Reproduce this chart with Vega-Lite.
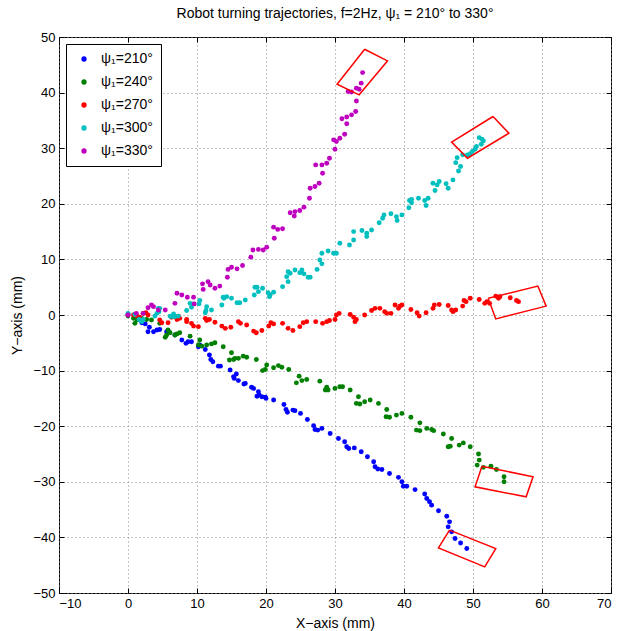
{
  "$schema": "https://vega.github.io/schema/vega-lite/v6.json",
  "autosize": {"type": "none"},
  "padding": {"left": 59, "top": 37, "right": 10, "bottom": 38},
  "width": 552,
  "height": 556,
  "title": {"text": "Robot turning trajectories, f=2Hz, ψ₁ = 210° to 330°", "fontSize": 14, "fontWeight": "normal", "color": "black", "offset": 10, "anchor": "middle"},
  "config": {
    "font": "Liberation Sans",
    "view": {"stroke": "black", "strokeWidth": 1},
    "axis": {"domain": false, "labelFontSize": 13, "labelColor": "black", "tickColor": "black", "tickSize": -5, "labelPadding": 9, "gridColor": "#888888", "gridDash": [1, 3], "gridOpacity": 1, "titleFontSize": 14, "titleFontWeight": "normal", "titleColor": "black"}
  },
  "datasets": {
    "pts": [
      {"g":210,"x":0,"y":0},{"g":210,"x":1.0,"y":0.1},{"g":210,"x":1.5,"y":-0.8},{"g":210,"x":2.0,"y":-1.4},{"g":210,"x":2.5,"y":-1.6},{"g":210,"x":3.1,"y":-2.2},{"g":210,"x":2.9,"y":-3.0},{"g":210,"x":3.7,"y":-3.0},{"g":210,"x":4.2,"y":-2.7},{"g":210,"x":4.6,"y":-2.6},{"g":210,"x":5.6,"y":-3.0},{"g":210,"x":5.8,"y":-2.8},{"g":210,"x":6.8,"y":-3.6},{"g":210,"x":7.8,"y":-4.5},{"g":210,"x":8.4,"y":-5.1},{"g":210,"x":8.7,"y":-4.8},{"g":210,"x":9.2,"y":-4.8},{"g":210,"x":10.2,"y":-5.7},{"g":210,"x":10.4,"y":-5.4},{"g":210,"x":11.2,"y":-6.2},{"g":210,"x":11.8,"y":-7.2},{"g":210,"x":12.0,"y":-8.0},{"g":210,"x":12.3,"y":-8.4},{"g":210,"x":13.1,"y":-9.2},{"g":210,"x":13.4,"y":-9.2},{"g":210,"x":14.8,"y":-9.9},{"g":210,"x":15.3,"y":-11.1},{"g":210,"x":15.7,"y":-10.6},{"g":210,"x":15.4,"y":-11.4},{"g":210,"x":16.0,"y":-11.8},{"g":210,"x":16.8,"y":-12.4},{"g":210,"x":17.0,"y":-12.3},{"g":210,"x":17.9,"y":-13.0},{"g":210,"x":18.2,"y":-13.2},{"g":210,"x":18.9,"y":-13.8},{"g":210,"x":19.0,"y":-14.4},{"g":210,"x":18.7,"y":-14.6},{"g":210,"x":19.4,"y":-14.7},{"g":210,"x":19.9,"y":-14.8},{"g":210,"x":20.0,"y":-15.0},{"g":210,"x":21.1,"y":-15.3},{"g":210,"x":22.6,"y":-16.1},{"g":210,"x":22.9,"y":-17.0},{"g":210,"x":23.1,"y":-17.5},{"g":210,"x":23.9,"y":-17.1},{"g":210,"x":24.2,"y":-17.2},{"g":210,"x":25.0,"y":-17.7},{"g":210,"x":26.0,"y":-18.8},{"g":210,"x":26.9,"y":-19.9},{"g":210,"x":27.1,"y":-20.6},{"g":210,"x":27.5,"y":-20.7},{"g":210,"x":28.1,"y":-20.4},{"g":210,"x":29.3,"y":-21.3},{"g":210,"x":30.5,"y":-22.2},{"g":210,"x":31.4,"y":-22.8},{"g":210,"x":31.7,"y":-23.7},{"g":210,"x":32.0,"y":-24.0},{"g":210,"x":32.8,"y":-23.9},{"g":210,"x":33.8,"y":-24.6},{"g":210,"x":34.7,"y":-25.5},{"g":210,"x":35.6,"y":-26.4},{"g":210,"x":35.8,"y":-27.3},{"g":210,"x":36.2,"y":-27.7},{"g":210,"x":36.8,"y":-27.8},{"g":210,"x":37.9,"y":-28.5},{"g":210,"x":39.2,"y":-29.2},{"g":210,"x":39.7,"y":-30.0},{"g":210,"x":39.9,"y":-30.8},{"g":210,"x":40.4,"y":-30.8},{"g":210,"x":41.6,"y":-31.4},{"g":210,"x":43.0,"y":-32.2},{"g":210,"x":43.3,"y":-33.0},{"g":210,"x":43.7,"y":-33.6},{"g":210,"x":44.0,"y":-34.2},{"g":210,"x":45.0,"y":-35.2},{"g":210,"x":46.2,"y":-36.2},{"g":210,"x":46.6,"y":-37.2},{"g":210,"x":46.4,"y":-38.1},{"g":210,"x":46.9,"y":-39.0},{"g":210,"x":47.4,"y":-40.2},{"g":210,"x":48.2,"y":-41.0},{"g":210,"x":49.1,"y":-42.0},
      {"g":240,"x":0,"y":-0.2},{"g":240,"x":0.8,"y":-0.6},{"g":240,"x":1.0,"y":-1.5},{"g":240,"x":1.3,"y":-0.9},{"g":240,"x":2.0,"y":-0.6},{"g":240,"x":2.7,"y":-0.8},{"g":240,"x":3.4,"y":-0.9},{"g":240,"x":4.6,"y":-1.5},{"g":240,"x":5.4,"y":-4.0},{"g":240,"x":5.6,"y":-3.6},{"g":240,"x":5.8,"y":-2.7},{"g":240,"x":6.1,"y":-3.2},{"g":240,"x":6.8,"y":-3.6},{"g":240,"x":7.1,"y":-3.4},{"g":240,"x":7.5,"y":-3.2},{"g":240,"x":9.0,"y":-3.8},{"g":240,"x":10.2,"y":-5.4},{"g":240,"x":10.4,"y":-4.5},{"g":240,"x":10.7,"y":-5.6},{"g":240,"x":11.4,"y":-5.4},{"g":240,"x":12.1,"y":-5.2},{"g":240,"x":12.6,"y":-5.0},{"g":240,"x":13.8,"y":-5.7},{"g":240,"x":14.7,"y":-8.1},{"g":240,"x":15.0,"y":-6.8},{"g":240,"x":15.3,"y":-8.0},{"g":240,"x":15.5,"y":-7.8},{"g":240,"x":16.0,"y":-7.8},{"g":240,"x":16.7,"y":-7.4},{"g":240,"x":17.2,"y":-7.6},{"g":240,"x":18.6,"y":-8.0},{"g":240,"x":19.5,"y":-10.0},{"g":240,"x":19.9,"y":-9.8},{"g":240,"x":20.1,"y":-9.0},{"g":240,"x":21.1,"y":-9.5},{"g":240,"x":21.8,"y":-9.1},{"g":240,"x":22.3,"y":-9.4},{"g":240,"x":23.3,"y":-9.8},{"g":240,"x":24.4,"y":-12.2},{"g":240,"x":24.8,"y":-11.0},{"g":240,"x":25.2,"y":-11.8},{"g":240,"x":25.9,"y":-11.6},{"g":240,"x":27.8,"y":-11.9},{"g":240,"x":28.6,"y":-13.5},{"g":240,"x":28.8,"y":-13.0},{"g":240,"x":29.0,"y":-13.5},{"g":240,"x":30.0,"y":-13.2},{"g":240,"x":30.7,"y":-12.9},{"g":240,"x":31.1,"y":-12.9},{"g":240,"x":32.2,"y":-13.5},{"g":240,"x":33.4,"y":-14.7},{"g":240,"x":33.1,"y":-15.9},{"g":240,"x":33.6,"y":-16.0},{"g":240,"x":34.3,"y":-15.6},{"g":240,"x":35.1,"y":-15.3},{"g":240,"x":36.3,"y":-15.9},{"g":240,"x":37.5,"y":-17.0},{"g":240,"x":37.4,"y":-18.3},{"g":240,"x":37.9,"y":-18.4},{"g":240,"x":38.9,"y":-18.0},{"g":240,"x":39.7,"y":-17.7},{"g":240,"x":41.0,"y":-18.4},{"g":240,"x":42.3,"y":-19.4},{"g":240,"x":41.8,"y":-20.7},{"g":240,"x":42.3,"y":-20.8},{"g":240,"x":43.3,"y":-20.4},{"g":240,"x":44.0,"y":-20.6},{"g":240,"x":44.3,"y":-20.8},{"g":240,"x":45.7,"y":-21.4},{"g":240,"x":46.9,"y":-22.2},{"g":240,"x":46.7,"y":-23.6},{"g":240,"x":46.4,"y":-23.7},{"g":240,"x":48.0,"y":-23.4},{"g":240,"x":48.6,"y":-23.0},{"g":240,"x":49.6,"y":-23.7},{"g":240,"x":50.8,"y":-25.0},{"g":240,"x":50.9,"y":-26.1},{"g":240,"x":50.6,"y":-27.0},{"g":240,"x":51.5,"y":-27.4},{"g":240,"x":52.6,"y":-27.2},{"g":240,"x":53.4,"y":-27.8},{"g":240,"x":54.5,"y":-29.1},{"g":240,"x":54.5,"y":-30.0},
      {"g":270,"x":0,"y":0},{"g":270,"x":0.8,"y":0},{"g":270,"x":1.3,"y":-0.2},{"g":270,"x":1.7,"y":-0.4},{"g":270,"x":2.2,"y":0.3},{"g":270,"x":2.6,"y":0.4},{"g":270,"x":2.9,"y":0},{"g":270,"x":4.6,"y":-0.9},{"g":270,"x":4.9,"y":-1.4},{"g":270,"x":5.8,"y":-1.4},{"g":270,"x":6.3,"y":-0.4},{"g":270,"x":6.8,"y":-0.3},{"g":270,"x":7.1,"y":-0.8},{"g":270,"x":7.3,"y":-0.2},{"g":270,"x":7.5,"y":-0.6},{"g":270,"x":8.5,"y":-0.8},{"g":270,"x":8.5,"y":-1.2},{"g":270,"x":9.2,"y":-1.5},{"g":270,"x":9.5,"y":-2.0},{"g":270,"x":10.2,"y":-2.1},{"g":270,"x":11.2,"y":-0.6},{"g":270,"x":11.4,"y":-1.0},{"g":270,"x":11.8,"y":-0.8},{"g":270,"x":12.6,"y":-1.3},{"g":270,"x":13.6,"y":-2.0},{"g":270,"x":14.1,"y":-2.4},{"g":270,"x":14.9,"y":-2.2},{"g":270,"x":16.0,"y":-1.2},{"g":270,"x":16.3,"y":-1.5},{"g":270,"x":17.2,"y":-1.8},{"g":270,"x":18.2,"y":-2.9},{"g":270,"x":18.6,"y":-3.2},{"g":270,"x":19.4,"y":-2.8},{"g":270,"x":20.4,"y":-2.0},{"g":270,"x":20.7,"y":-1.4},{"g":270,"x":21.1,"y":-1.6},{"g":270,"x":22.4,"y":-1.5},{"g":270,"x":23.2,"y":-2.4},{"g":270,"x":23.9,"y":-2.8},{"g":270,"x":24.9,"y":-2.1},{"g":270,"x":25.4,"y":-1.4},{"g":270,"x":25.9,"y":-1.2},{"g":270,"x":27.2,"y":-1.2},{"g":270,"x":28.2,"y":-1.5},{"g":270,"x":28.8,"y":-1.2},{"g":270,"x":29.2,"y":-1.0},{"g":270,"x":30.0,"y":-0.8},{"g":270,"x":30.2,"y":0},{"g":270,"x":30.6,"y":0.3},{"g":270,"x":32.2,"y":0.1},{"g":270,"x":32.7,"y":-0.4},{"g":270,"x":32.9,"y":-1.2},{"g":270,"x":33.1,"y":-0.8},{"g":270,"x":34.3,"y":0},{"g":270,"x":35.3,"y":0.8},{"g":270,"x":35.8,"y":1.2},{"g":270,"x":36.5,"y":1.2},{"g":270,"x":37.2,"y":0.6},{"g":270,"x":37.5,"y":0.3},{"g":270,"x":38.1,"y":0.3},{"g":270,"x":38.7,"y":1.8},{"g":270,"x":39.2,"y":1.2},{"g":270,"x":39.4,"y":1.6},{"g":270,"x":39.7,"y":1.8},{"g":270,"x":41.0,"y":1.0},{"g":270,"x":41.9,"y":0.4},{"g":270,"x":42.2,"y":-0.2},{"g":270,"x":43.2,"y":0.4},{"g":270,"x":44.2,"y":1.2},{"g":270,"x":44.4,"y":1.8},{"g":270,"x":45.1,"y":1.9},{"g":270,"x":46.4,"y":1.7},{"g":270,"x":46.9,"y":0.9},{"g":270,"x":47.1,"y":0.6},{"g":270,"x":47.5,"y":0.9},{"g":270,"x":48.5,"y":1.6},{"g":270,"x":48.7,"y":2.6},{"g":270,"x":49.0,"y":2.4},{"g":270,"x":49.6,"y":3.0},{"g":270,"x":50.9,"y":2.8},{"g":270,"x":51.7,"y":2.1},{"g":270,"x":52.0,"y":2.4},{"g":270,"x":52.4,"y":2.1},{"g":270,"x":53.3,"y":3.4},{"g":270,"x":53.7,"y":3.0},{"g":270,"x":53.9,"y":3.3},{"g":270,"x":55.4,"y":3.1},{"g":270,"x":56.3,"y":2.6},{"g":270,"x":56.6,"y":2.4},
      {"g":300,"x":0,"y":0.3},{"g":300,"x":1.0,"y":0.1},{"g":300,"x":1.6,"y":-0.8},{"g":300,"x":2.2,"y":-0.8},{"g":300,"x":2.0,"y":-1.2},{"g":300,"x":3.9,"y":-0.2},{"g":300,"x":4.2,"y":0.3},{"g":300,"x":4.4,"y":1.2},{"g":300,"x":4.5,"y":0.6},{"g":300,"x":4.6,"y":1.2},{"g":300,"x":6.1,"y":-0.2},{"g":300,"x":6.3,"y":-0.3},{"g":300,"x":6.6,"y":0.2},{"g":300,"x":6.8,"y":-0.3},{"g":300,"x":7.3,"y":-0.2},{"g":300,"x":8.5,"y":0.8},{"g":300,"x":9.0,"y":2.1},{"g":300,"x":9.2,"y":1.4},{"g":300,"x":9.5,"y":2.0},{"g":300,"x":10.3,"y":2.0},{"g":300,"x":10.4,"y":2.6},{"g":300,"x":11.2,"y":0.4},{"g":300,"x":11.3,"y":0.8},{"g":300,"x":11.4,"y":1.5},{"g":300,"x":12.1,"y":0.9},{"g":300,"x":13.6,"y":1.8},{"g":300,"x":13.8,"y":3.2},{"g":300,"x":13.9,"y":3.0},{"g":300,"x":14.3,"y":3.3},{"g":300,"x":15.0,"y":3.0},{"g":300,"x":15.8,"y":2.2},{"g":300,"x":16.2,"y":2.2},{"g":300,"x":17.0,"y":2.7},{"g":300,"x":18.3,"y":3.6},{"g":300,"x":18.4,"y":5.0},{"g":300,"x":18.7,"y":5.0},{"g":300,"x":18.9,"y":4.2},{"g":300,"x":19.5,"y":4.8},{"g":300,"x":20.3,"y":4.0},{"g":300,"x":20.6,"y":3.6},{"g":300,"x":20.5,"y":3.3},{"g":300,"x":21.1,"y":4.1},{"g":300,"x":22.4,"y":5.1},{"g":300,"x":23.0,"y":6.9},{"g":300,"x":23.2,"y":6.0},{"g":300,"x":23.2,"y":7.8},{"g":300,"x":23.5,"y":7.5},{"g":300,"x":24.2,"y":8.1},{"g":300,"x":24.9,"y":7.6},{"g":300,"x":25.2,"y":8.1},{"g":300,"x":25.5,"y":7.4},{"g":300,"x":26.1,"y":6.8},{"g":300,"x":26.4,"y":6.8},{"g":300,"x":27.4,"y":8.2},{"g":300,"x":27.8,"y":9.9},{"g":300,"x":28.1,"y":9.2},{"g":300,"x":28.1,"y":11.1},{"g":300,"x":29.0,"y":11.5},{"g":300,"x":29.8,"y":11.1},{"g":300,"x":30.2,"y":11.1},{"g":300,"x":30.7,"y":12.9},{"g":300,"x":32.1,"y":12.6},{"g":300,"x":32.7,"y":13.5},{"g":300,"x":32.7,"y":15.0},{"g":300,"x":33.9,"y":15.2},{"g":300,"x":34.6,"y":14.1},{"g":300,"x":34.6,"y":14.7},{"g":300,"x":35.3,"y":15.3},{"g":300,"x":36.4,"y":16.6},{"g":300,"x":36.9,"y":17.4},{"g":300,"x":37.1,"y":18.0},{"g":300,"x":38.1,"y":18.2},{"g":300,"x":38.9,"y":17.7},{"g":300,"x":39.0,"y":17.0},{"g":300,"x":39.7,"y":18.0},{"g":300,"x":40.7,"y":19.3},{"g":300,"x":40.8,"y":20.6},{"g":300,"x":41.1,"y":20.8},{"g":300,"x":41.1,"y":20.2},{"g":300,"x":42.1,"y":21.0},{"g":300,"x":43.0,"y":20.6},{"g":300,"x":43.2,"y":19.7},{"g":300,"x":43.5,"y":21.0},{"g":300,"x":44.2,"y":23.7},{"g":300,"x":44.5,"y":22.4},{"g":300,"x":44.8,"y":23.4},{"g":300,"x":45.1,"y":24.0},{"g":300,"x":46.1,"y":23.6},{"g":300,"x":46.4,"y":22.8},{"g":300,"x":47.1,"y":24.3},{"g":300,"x":47.9,"y":25.9},{"g":300,"x":48.2,"y":26.7},{"g":300,"x":47.5,"y":27.4},{"g":300,"x":47.7,"y":28.3},{"g":300,"x":48.5,"y":28.8},{"g":300,"x":49.2,"y":28.8},{"g":300,"x":49.6,"y":29.0},{"g":300,"x":49.9,"y":29.4},{"g":300,"x":50.3,"y":29.8},{"g":300,"x":50.5,"y":30.3},{"g":300,"x":51.2,"y":30.7},{"g":300,"x":51.5,"y":31.3},{"g":300,"x":51.3,"y":31.6},{"g":300,"x":50.9,"y":31.9},
      {"g":330,"x":0,"y":0},{"g":330,"x":1.2,"y":0.3},{"g":330,"x":2.2,"y":0.3},{"g":330,"x":2.9,"y":1.3},{"g":330,"x":3.4,"y":1.8},{"g":330,"x":3.7,"y":1.5},{"g":330,"x":4.4,"y":0.9},{"g":330,"x":5.4,"y":0.9},{"g":330,"x":6.8,"y":2.1},{"g":330,"x":7.1,"y":3.9},{"g":330,"x":7.8,"y":3.6},{"g":330,"x":8.6,"y":3.2},{"g":330,"x":9.5,"y":3.2},{"g":330,"x":9.6,"y":2.0},{"g":330,"x":10.8,"y":5.6},{"g":330,"x":10.9,"y":4.6},{"g":330,"x":11.6,"y":6.0},{"g":330,"x":11.9,"y":5.4},{"g":330,"x":12.6,"y":4.8},{"g":330,"x":13.3,"y":5.2},{"g":330,"x":14.4,"y":6.8},{"g":330,"x":14.5,"y":8.2},{"g":330,"x":15.0,"y":8.6},{"g":330,"x":15.8,"y":8.3},{"g":330,"x":16.6,"y":8.9},{"g":330,"x":17.8,"y":10.4},{"g":330,"x":18.1,"y":11.7},{"g":330,"x":18.9,"y":11.8},{"g":330,"x":19.6,"y":11.7},{"g":330,"x":20.1,"y":12.2},{"g":330,"x":21.1,"y":15.8},{"g":330,"x":21.2,"y":13.8},{"g":330,"x":21.7,"y":15.4},{"g":330,"x":22.4,"y":15.5},{"g":330,"x":23.5,"y":18.4},{"g":330,"x":24.1,"y":17.8},{"g":330,"x":24.2,"y":18.6},{"g":330,"x":24.9,"y":18.8},{"g":330,"x":25.5,"y":19.4},{"g":330,"x":26.3,"y":21.0},{"g":330,"x":26.4,"y":22.8},{"g":330,"x":27.1,"y":23.1},{"g":330,"x":27.7,"y":23.7},{"g":330,"x":28.2,"y":25.5},{"g":330,"x":27.2,"y":27.0},{"g":330,"x":28.1,"y":27.0},{"g":330,"x":28.8,"y":27.3},{"g":330,"x":29.2,"y":28.2},{"g":330,"x":30.0,"y":29.8},{"g":330,"x":29.8,"y":31.5},{"g":330,"x":30.2,"y":31.2},{"g":330,"x":30.7,"y":31.8},{"g":330,"x":31.4,"y":32.5},{"g":330,"x":31.7,"y":34.4},{"g":330,"x":31.0,"y":35.3},{"g":330,"x":31.7,"y":35.6},{"g":330,"x":32.4,"y":36.0},{"g":330,"x":33.0,"y":36.6},{"g":330,"x":33.1,"y":38.5},{"g":330,"x":31.9,"y":40.2},{"g":330,"x":32.4,"y":40.1},{"g":330,"x":33.1,"y":40.8},{"g":330,"x":33.5,"y":40.6},{"g":330,"x":33.8,"y":41.7},{"g":330,"x":34.0,"y":43.6}
    ],
    "rects": [
      {"r":1,"o":0,"x":34.3,"y":47.8},{"r":1,"o":1,"x":37.6,"y":45.7},{"r":1,"o":2,"x":33.5,"y":39.6},{"r":1,"o":3,"x":30.3,"y":41.5},{"r":1,"o":4,"x":34.3,"y":47.8},
      {"r":2,"o":0,"x":52.9,"y":35.7},{"r":2,"o":1,"x":55.2,"y":32.7},{"r":2,"o":2,"x":49.2,"y":28.2},{"r":2,"o":3,"x":46.9,"y":31.1},{"r":2,"o":4,"x":52.9,"y":35.7},
      {"r":3,"o":0,"x":52.2,"y":3.0},{"r":3,"o":1,"x":59.4,"y":5.2},{"r":3,"o":2,"x":60.6,"y":1.6},{"r":3,"o":3,"x":53.3,"y":-0.7},{"r":3,"o":4,"x":52.2,"y":3.0},
      {"r":4,"o":0,"x":51.3,"y":-27.2},{"r":4,"o":1,"x":58.7,"y":-29.1},{"r":4,"o":2,"x":57.7,"y":-32.7},{"r":4,"o":3,"x":50.3,"y":-30.9},{"r":4,"o":4,"x":51.3,"y":-27.2},
      {"r":5,"o":0,"x":46.6,"y":-38.7},{"r":5,"o":1,"x":53.3,"y":-42.0},{"r":5,"o":2,"x":51.7,"y":-45.3},{"r":5,"o":3,"x":45.0,"y":-41.9},{"r":5,"o":4,"x":46.6,"y":-38.7}
    ]
  },
  "layer": [
    {
      "data": {"name": "pts"},
      "mark": {"type": "point", "filled": true, "opacity": 1, "size": 24, "shape": "circle"},
      "encoding": {
        "x": {"field": "x", "type": "quantitative", "scale": {"domain": [-10, 70], "nice": false, "zero": false}, "axis": {"values": [-10, 0, 10, 20, 30, 40, 50, 60, 70], "title": "X−axis (mm)", "grid": true, "titlePadding": 6}},
        "y": {"field": "y", "type": "quantitative", "scale": {"domain": [-50, 50], "nice": false, "zero": false}, "axis": {"values": [-50, -40, -30, -20, -10, 0, 10, 20, 30, 40, 50], "title": "Y−axis (mm)", "grid": true, "titlePadding": 8}},
        "color": {"field": "g", "type": "nominal", "scale": {"domain": [210, 240, 270, 300, 330], "range": ["#0000FF", "#008000", "#FF0000", "#00BFBF", "#BF00BF"]},
          "legend": {"title": null, "orient": "top-left", "offset": 7, "strokeColor": "black", "fillColor": "white", "padding": 8, "symbolType": "circle", "symbolSize": 28, "symbolStrokeWidth": 0, "symbolOffset": 3, "labelFontSize": 14, "labelColor": "black", "rowPadding": 9, "labelOffset": 10, "labelExpr": "'ψ₁=' + datum.label + '°'"}}
      }
    },
    {
      "data": {"name": "rects"},
      "mark": {"type": "line", "color": "#FF0000", "strokeWidth": 1.5},
      "encoding": {
        "x": {"field": "x", "type": "quantitative", "axis": {"orient": "top", "values": [-10, 0, 10, 20, 30, 40, 50, 60, 70], "labels": false, "title": null, "grid": false}},
        "y": {"field": "y", "type": "quantitative", "axis": {"orient": "right", "values": [-50, -40, -30, -20, -10, 0, 10, 20, 30, 40, 50], "labels": false, "title": null, "grid": false}},
        "detail": {"field": "r", "type": "nominal"},
        "order": {"field": "o", "type": "quantitative"}
      }
    }
  ],
  "resolve": {"axis": {"x": "independent", "y": "independent"}}
}
